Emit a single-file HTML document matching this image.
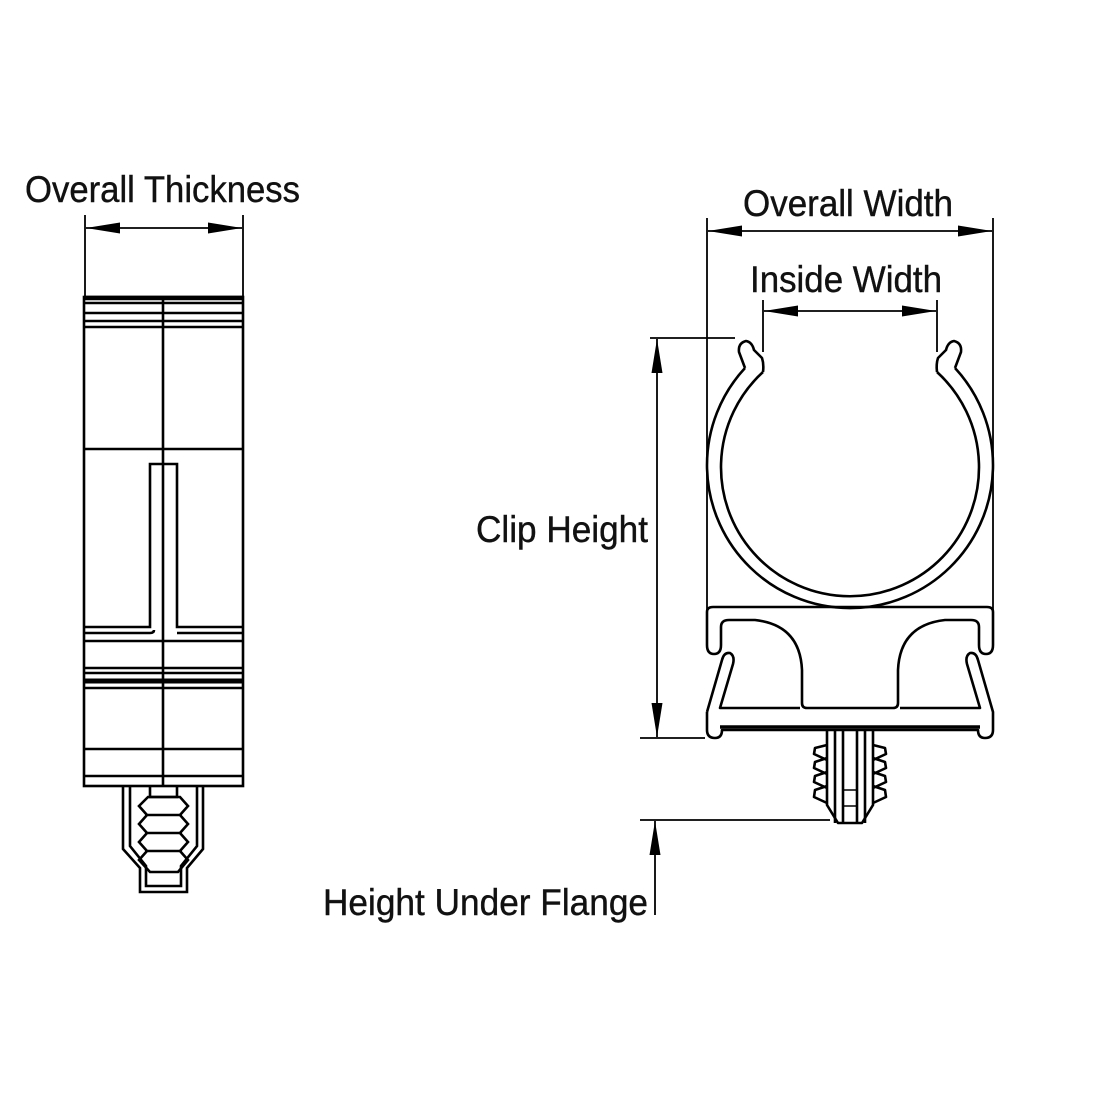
<!DOCTYPE html>
<html><head><style>html,body{margin:0;padding:0;background:#fff}svg{display:block}</style></head>
<body>
<svg width="1100" height="1100" viewBox="0 0 1100 1100" xmlns="http://www.w3.org/2000/svg">
<defs>
<marker id="a" viewBox="0 0 10 10" refX="10" refY="5" markerWidth="34" markerHeight="11" markerUnits="userSpaceOnUse" orient="auto-start-reverse" preserveAspectRatio="none"><path d="M0,0 L10,5 L0,10 Z" fill="#000"/></marker>
</defs>
<g font-family="Liberation Sans, Arial, sans-serif" font-size="37" fill="#111" stroke="#111" stroke-width="0.4">
<text x="25" y="202" textLength="275" lengthAdjust="spacingAndGlyphs">Overall Thickness</text>
<text x="743" y="216" textLength="210" lengthAdjust="spacingAndGlyphs">Overall Width</text>
<text x="750" y="292" textLength="192" lengthAdjust="spacingAndGlyphs">Inside Width</text>
<text x="476" y="542" textLength="172" lengthAdjust="spacingAndGlyphs">Clip Height</text>
<text x="323" y="915" textLength="325" lengthAdjust="spacingAndGlyphs">Height Under Flange</text>
</g>
<g stroke="#000" fill="none" stroke-width="1.8">
<line x1="85" y1="215" x2="85" y2="296"/><line x1="243" y1="215" x2="243" y2="296"/>
<line x1="86" y1="228" x2="242" y2="228" marker-start="url(#a)" marker-end="url(#a)"/>
<line x1="707" y1="218" x2="707" y2="640"/><line x1="993" y1="218" x2="993" y2="645"/>
<line x1="708" y1="231" x2="992" y2="231" marker-start="url(#a)" marker-end="url(#a)"/>
<line x1="763" y1="300" x2="763" y2="352"/><line x1="937" y1="300" x2="937" y2="352"/>
<line x1="764" y1="311" x2="936" y2="311" marker-start="url(#a)" marker-end="url(#a)"/>
<line x1="650" y1="338" x2="735" y2="338"/><line x1="640" y1="738" x2="705" y2="738"/>
<line x1="657" y1="339" x2="657" y2="737" marker-start="url(#a)" marker-end="url(#a)"/>
<line x1="640" y1="820" x2="830" y2="820"/>
<line x1="655" y1="915" x2="655" y2="821" marker-end="url(#a)"/>
</g>
<g stroke="#000" fill="none" stroke-width="2.6">
<rect x="84" y="297" width="159" height="489"/>
<line x1="163" y1="297" x2="163" y2="786"/>
<line x1="84" y1="298" x2="243" y2="298" stroke-width="4.5"/>
<line x1="84" y1="303" x2="243" y2="303"/>
<line x1="84" y1="313" x2="243" y2="313"/>
<line x1="84" y1="321" x2="243" y2="321"/>
<line x1="84" y1="327" x2="243" y2="327"/>
<line x1="84" y1="449" x2="243" y2="449"/>
<path d="M84,627 L150,627 L150,464 L177,464 L177,627 L243,627"/>
<path d="M84,633 L150,633 Q154,633 154,630 M243,633 L177,633"/>
<line x1="84" y1="641" x2="243" y2="641"/>
<line x1="84" y1="668" x2="243" y2="668"/>
<line x1="84" y1="673" x2="243" y2="673"/>
<line x1="84" y1="681" x2="243" y2="681" stroke-width="5"/>
<line x1="84" y1="688" x2="243" y2="688"/>
<line x1="84" y1="749" x2="243" y2="749"/>
<line x1="84" y1="776" x2="243" y2="776"/>
<path d="M123,786 L123,849 L140,868 L140,892 L187,892 L187,868 L203,849 L203,786"/>
<path d="M130,786 L130,846 L146,866 L146,886 L181,886 L181,866 L197,846 L197,786"/>
<path d="M150,786 L150,797 L177,797 L177,786"/>
<path d="M148,797 L180,797 L188,806 L180,815 L188,824 L180,833 L188,842 L180,851 L188,860 L178,872 L150,872 L139,860 L147,851 L139,842 L147,833 L139,824 L147,815 L139,806 Z"/>
<line x1="145" y1="815" x2="182" y2="815"/><line x1="145" y1="833" x2="182" y2="833"/><line x1="145" y1="851" x2="182" y2="851"/>
</g>
<g stroke="#000" fill="none" stroke-width="2.6" stroke-linejoin="round">
<path d="M745,368 A143,143 0 1 0 955,368"/>
<path d="M763,372 A129,129 0 1 0 937,372"/>
<path d="M745,368 L739,352 Q738,343 746,341 Q752,342 754,350 L762,358 Q764,364 763,372"/>
<path d="M955,368 L961,352 Q962,343 954,341 Q948,342 946,350 L938,358 Q936,364 937,372"/>
<path d="M707,645 L707,612 Q707,607 713,607 L987,607 Q993,607 993,612 L993,645 Q993,654 986,654 Q979,654 979,645 L979,627 Q979,620 971,620 L945,620 Q900,625 898,670 L898,703 Q898,708 893,708 L807,708 Q802,708 802,703 L802,670 Q800,625 755,620 L729,620 Q721,620 721,627 L721,645 Q721,654 714,654 Q707,654 707,645Z"/>
<path d="M707,712 L707,730 Q707,738 715,738 Q722,738 722,730 L978,730 Q978,738 985,738 Q993,738 993,730 L993,712 L978,660 Q976,652 970,653 Q965,656 967,664 L980,708 L900,708"/>
<path d="M707,712 L722,660 Q724,652 730,653 Q735,656 733,664 L720,708 L800,708"/>
<line x1="720" y1="727" x2="980" y2="727" stroke-width="3.5"/>
<path d="M827,730 L827,805 L838,823 L862,823 L873,805 L873,730"/>
<line x1="835" y1="730" x2="835" y2="823"/><line x1="865" y1="730" x2="865" y2="823"/>
<line x1="843" y1="730" x2="843" y2="823"/><line x1="857" y1="730" x2="857" y2="823"/>
<rect x="843" y="790" width="14" height="16" stroke-width="1.5"/>
<path d="M827,745 L815,748 L814,754 L827,760 M827,758 L815,762 L814,768 L827,774 M827,772 L815,776 L814,782 L827,788 M827,786 L815,790 L814,797 L827,803"/>
<path d="M873,745 L885,748 L886,754 L873,760 M873,758 L885,762 L886,768 L873,774 M873,772 L885,776 L886,782 L873,788 M873,786 L885,790 L886,797 L873,803"/>
</g>
</svg>
</body></html>
